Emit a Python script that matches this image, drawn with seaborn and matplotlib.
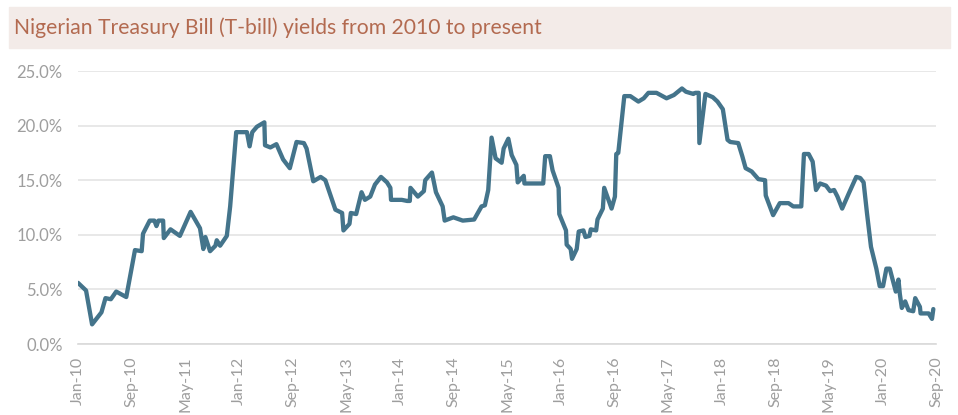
import pandas as pd
import matplotlib.pyplot as plt
import seaborn as sns

# months since Jan-2010 and T-bill yield (%)
months = [0, 1.2, 2.1, 3.5, 4.1, 4.9, 5.7, 7.2, 8.5, 9.5, 9.7, 10.7, 11.4, 11.7, 12.0, 12.7, 12.8,
          13.8, 15.2, 16.8, 18.2, 18.7, 19.0, 19.7, 20.5, 20.7, 21.2, 22.2, 22.7, 23.6, 25.2, 25.6,
          26.0, 26.7, 27.8, 27.9, 28.7, 29.6, 30.6, 31.6, 32.6, 33.7, 34.1, 35.1, 36.2, 36.9,
          38.4, 39.4, 39.6, 40.5, 40.7, 41.5, 42.3, 42.8, 43.6, 44.3, 45.2, 46.1, 46.6, 46.7,
          48.3, 49.1, 49.5, 49.6, 50.7, 51.6, 51.8, 52.8, 53.4, 54.4, 54.7, 56.0, 57.4, 59.1,
          60.2, 60.7, 61.2, 61.7, 62.3, 63.2, 63.5, 64.2, 64.7, 65.4, 65.6, 66.5, 66.6, 68.5,
          69.4, 69.7, 70.4, 70.8, 71.7, 71.8, 72.8, 72.9, 73.5, 73.7, 74.4, 74.7, 75.4, 75.7,
          76.3, 76.5, 77.3, 77.5, 78.3, 78.5, 79.6, 80.1, 80.3, 80.6, 81.5, 82.4, 83.6, 84.4,
          85.1, 86.3, 87.8, 88.9, 90.1, 90.7, 91.8, 92.1, 92.6, 92.7, 93.6, 94.7, 95.4, 96.2,
          96.9, 97.3, 98.5, 99.1, 99.6, 100.5, 101.5, 102.5, 102.6, 103.7, 104.7, 106.0, 106.7,
          107.9, 108.3, 109.0, 109.6, 110.1, 110.7, 111.6, 112.2, 112.8, 113.3, 114.0, 115.0,
          116.1, 116.7, 117.2, 117.7, 118.3, 119.1, 119.6, 120.1, 120.6, 121.1, 122.0, 122.4,
          122.6, 122.9, 123.4, 123.9, 124.6, 124.9, 125.6, 125.7, 126.9, 127.4, 127.6]
yields = [5.6, 4.9, 1.8, 2.9, 4.2, 4.1, 4.8, 4.3, 8.6, 8.5, 10.1, 11.3, 11.3, 10.8, 11.3, 11.3, 9.7,
          10.5, 9.9, 12.1, 10.6, 8.7, 9.8, 8.5, 9.0, 9.5, 9.0, 9.9, 12.6, 19.4, 19.4, 18.1,
          19.4, 19.9, 20.3, 18.2, 18.0, 18.3, 16.9, 16.1, 18.5, 18.4, 17.9, 14.9, 15.3, 15.0,
          12.3, 12.0, 10.4, 11.0, 12.0, 11.9, 13.9, 13.2, 13.5, 14.6, 15.3, 14.8, 14.3, 13.2,
          13.2, 13.1, 13.1, 14.3, 13.5, 14.0, 15.0, 15.7, 13.9, 12.6, 11.3, 11.6, 11.3, 11.4,
          12.6, 12.7, 14.1, 18.9, 17.0, 16.6, 17.9, 18.8, 17.3, 16.4, 14.8, 15.4, 14.7, 14.7,
          14.7, 17.2, 17.2, 15.9, 14.3, 11.9, 10.4, 9.1, 8.7, 7.8, 8.7, 10.3, 10.4, 9.8,
          9.9, 10.5, 10.4, 11.4, 12.4, 14.3, 12.4, 13.5, 17.4, 17.5, 22.7, 22.7, 22.2, 22.5,
          23.0, 23.0, 22.5, 22.8, 23.4, 23.1, 22.9, 23.0, 23.0, 18.4, 22.9, 22.6, 22.2, 21.5,
          18.7, 18.5, 18.4, 17.2, 16.1, 15.8, 15.1, 15.0, 13.6, 11.8, 12.9, 12.9, 12.6,
          12.6, 17.4, 17.4, 16.7, 14.1, 14.7, 14.5, 14.0, 14.1, 13.5, 12.4, 13.8,
          15.3, 15.2, 14.8, 12.0, 8.9, 6.9, 5.3, 5.3, 6.9, 6.9, 4.8, 5.9,
          4.6, 3.3, 3.9, 3.1, 3.0, 4.2, 3.4, 2.8, 2.8, 2.3, 3.2]

tick_months = [0, 8, 16, 24, 32, 40, 48, 56, 64, 72, 80, 88, 96, 104, 112, 120, 128]
tick_labels = ['Jan-10', 'Sep-10', 'May-11', 'Jan-12', 'Sep-12', 'May-13', 'Jan-14', 'Sep-14',
               'May-15', 'Jan-16', 'Sep-16', 'May-17', 'Jan-18', 'Sep-18', 'May-19', 'Jan-20', 'Sep-20']
y_ticks = [0, 5, 10, 15, 20, 25]

title = 'Nigerian Treasury Bill (T-bill) yields from 2010 to present'

sns.set_style('white')
plt.rcParams['font.family'] = ['Lato', 'DejaVu Sans']

df = pd.DataFrame({'month': months, 'yield': yields})

fig = plt.figure(figsize=(9.58, 4.15), dpi=100)
ax = fig.add_axes([78 / 958, 1 - 344 / 415, (936 - 78) / 958, (344 - 71) / 415])

sns.lineplot(data=df, x='month', y='yield', ax=ax, color='#44748b', linewidth=3.1)

ax.set_xlim(0, 128)
ax.set_ylim(0, 25)
ax.set_yticks(y_ticks)
ax.set_yticklabels([f'{v:.1f}%' for v in y_ticks])
ax.set_xticks(tick_months)
ax.set_xticklabels(tick_labels, rotation=90)
ax.set_xlabel('')
ax.set_ylabel('')
ax.grid(axis='y', color='#e6e6e6', linewidth=1.3)
ax.set_axisbelow(True)
for s in ['top', 'right', 'left']:
    ax.spines[s].set_visible(False)
ax.spines['bottom'].set_color('#d9d9d9')
ax.spines['bottom'].set_linewidth(1.2)
ax.tick_params(axis='x', colors='#d9d9d9', length=5, width=1, labelsize=11.5, pad=4)
ax.tick_params(axis='y', length=0, labelsize=12, pad=11)
for lab in ax.get_xticklabels() + ax.get_yticklabels():
    lab.set_color('#9e9e9e')

# title banner
fig.patches.append(plt.Rectangle((9 / 958, 1 - 48 / 415), 941 / 958, 41 / 415,
                                 transform=fig.transFigure, color='#f3ebe8', zorder=0))
fig.text(14 / 958, 1 - 28 / 415, title, color='#b36a50', fontsize=15.2,
         va='center', ha='left')

fig.savefig('out.png', dpi=100)
